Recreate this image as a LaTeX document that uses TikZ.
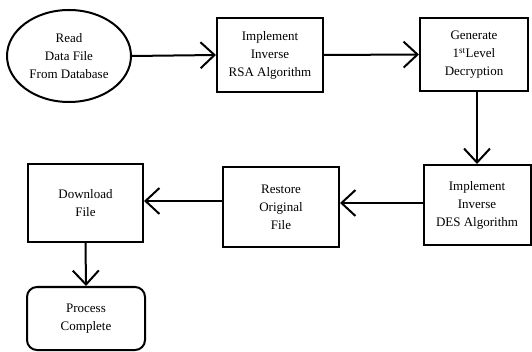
\documentclass[tikz,border=0pt]{standalone}
\usepackage{fontspec}
\setmainfont{Liberation Serif}
\usetikzlibrary{shapes.geometric,arrows.meta}
\begin{document}
\begin{tikzpicture}[x=1pt,y=-1pt,
  every node/.style={font=\fontsize{13}{18}\selectfont, align=center, line width=2pt},
  box/.style={draw, rectangle, inner sep=0pt},
  conn/.style={line width=2pt, -{Straight Barb[length=14pt,width=26pt]}}]
\useasboundingbox (0,0) rectangle (532,352);
\node[draw, ellipse, minimum width=124pt, minimum height=92pt, inner sep=0pt] (read) at (69,56) {Read\\ Data File\\ From Database};
\node[box, minimum width=106pt, minimum height=74pt] (rsa) at (270,55) {Implement\\ Inverse\\ RSA Algorithm};
\node[box, minimum width=108pt, minimum height=73pt] (gen) at (474,54.5) {Generate\\ 1\textsuperscript{st}Level\\ Decryption};
\node[box, minimum width=107pt, minimum height=80pt] (des) at (477,205) {Implement\\ Inverse\\ DES Algorithm};
\node[box, minimum width=116pt, minimum height=80pt] (rest) at (281,207) {Restore\\ Original\\ File};
\node[box, minimum width=115pt, minimum height=78pt] (down) at (85.5,203) {Download\\ File};
\node[box, rounded corners=10pt, minimum width=118pt, minimum height=63pt] (proc) at (86,318.5) {Process\\ Complete};
\draw[conn] (read.east) -- (rsa.west);
\draw[conn] (rsa.east) -- (gen.west);
\draw[conn] (gen.south -| des.north) -- (des.north);
\draw[conn] (des.west |- 0,203) -- (rest.east |- 0,203);
\draw[conn] (rest.west |- 0,201) -- (down.east |- 0,201);
\draw[conn] (down.south) -- (proc.north);
\end{tikzpicture}
\end{document}
